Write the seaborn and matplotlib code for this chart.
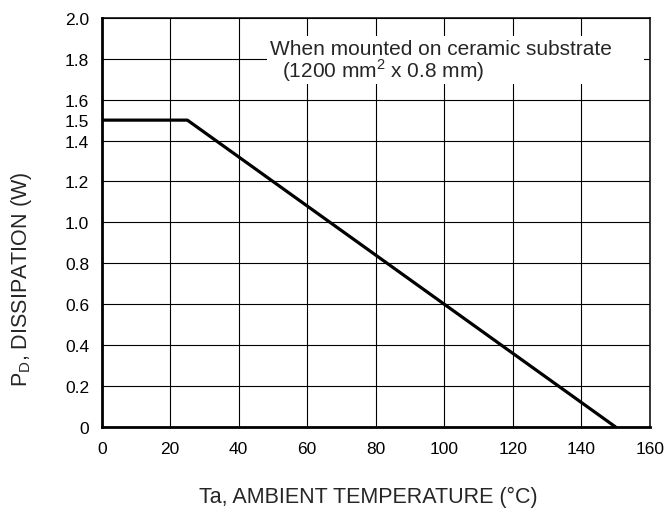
import numpy as np
import pandas as pd
import matplotlib
matplotlib.use("Agg")
import matplotlib.pyplot as plt
from matplotlib.patches import Rectangle
from matplotlib.ticker import FixedLocator
import seaborn as sns

sns.set_style("white")
plt.rcParams["font.family"] = ["Liberation Sans", "DejaVu Sans"]

# derating curve
temp_c = [0, 25, 150]
power_w = [1.5, 1.5, 0.0]

x_ticks = [0, 20, 40, 60, 80, 100, 120, 140, 160]
y_major = [0, 0.2, 0.4, 0.6, 0.8, 1.0, 1.2, 1.4, 1.6, 1.8, 2.0]
y_major_labels = ["0", "0.2", "0.4", "0.6", "0.8", "1.0", "1.2", "1.4", "1.6", "1.8", "2.0"]
y_extra = [1.5]
y_extra_labels = ["1.5"]

note_line1 = "When mounted on ceramic substrate"
note_line2 = "(1200 mm$^\\mathregular{2}$ x 0.8 mm)"

df = pd.DataFrame({"Ta": temp_c, "PD": power_w})

fig = plt.figure(figsize=(6.65, 5.10), dpi=100)
ax = fig.add_axes([0.153, 0.161, 0.824, 0.802])

sns.lineplot(data=df, x="Ta", y="PD", color="black", linewidth=2.3, ax=ax, zorder=3)

ax.set_xlim(0, 160)
ax.set_ylim(0, 2.0)
ax.set_xticks(x_ticks)
ax.set_xticklabels([str(t) for t in x_ticks])
ax.yaxis.set_major_locator(FixedLocator(y_major))
ax.set_yticklabels(y_major_labels)
ax.yaxis.set_minor_locator(FixedLocator(y_extra))
ax.set_yticklabels(y_extra_labels, minor=True)

ax.tick_params(axis="both", which="both", length=0, labelsize=12.5, colors="black")
ax.tick_params(axis="x", pad=10)
ax.tick_params(axis="y", which="both", pad=9)

ax.grid(True, which="major", color="black", linewidth=0.8)
ax.set_axisbelow(True)

for side in ["left", "bottom"]:
    ax.spines[side].set_linewidth(2.0)
for side in ["top", "right"]:
    ax.spines[side].set_linewidth(1.1)
for s in ax.spines.values():
    s.set_color("black")
    s.set_zorder(4)

ax.set_xlabel("Ta, AMBIENT TEMPERATURE (°C)", fontsize=15.5)
ax.xaxis.set_label_coords(0.487, -0.143)
ax.set_ylabel("P$_\\mathregular{D}$, DISSIPATION (W)", fontsize=15.5)
ax.yaxis.set_label_coords(-0.124, 0.362)

# white panel behind the note
ax.add_patch(Rectangle((48.2, 1.677), 110.0, 0.235, facecolor="white",
                       edgecolor="none", zorder=2, clip_on=False))
ax.text(49.0, 1.824, note_line1, fontsize=15, va="baseline", ha="left", zorder=5)
ax.text(52.6, 1.711, note_line2, fontsize=15, va="baseline", ha="left", zorder=5)

fig.savefig("out.png", dpi=100)
plt.close(fig)
